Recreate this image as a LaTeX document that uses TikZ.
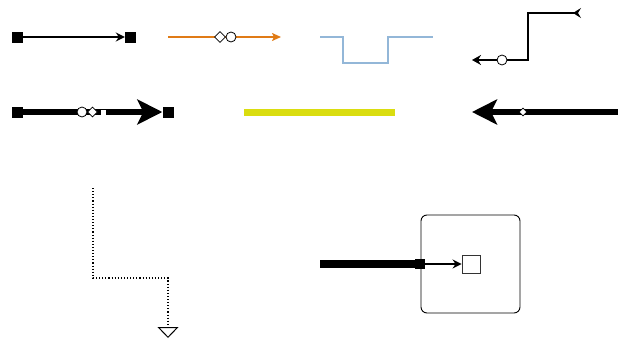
\documentclass[tikz,border=0pt]{standalone}
\usetikzlibrary{arrows.meta,shapes.geometric}
\definecolor{orangeline}{HTML}{E07B16}
\definecolor{blueline}{HTML}{93B7D8}
\definecolor{yellowline}{HTML}{DADD10}
\begin{document}
\begin{tikzpicture}[x=1pt,y=-1pt,
  endsq/.style={rectangle,draw=none,fill=black,minimum size=11pt,inner sep=0pt},
  ring/.style={circle,draw=black,fill=white,minimum size=10pt,inner sep=0pt,line width=0.8pt},
  rhomb/.style={diamond,draw=black,fill=white,minimum size=10pt,inner sep=0pt,line width=0.8pt},
  smallsq/.style={rectangle,draw=none,fill=white,minimum size=5pt,inner sep=0pt},
  smallrhomb/.style={diamond,draw=black,fill=white,minimum size=8pt,inner sep=0pt,line width=0.6pt},
  thinline/.style={line width=2pt,black},
  thickline/.style={line width=6pt,black},
  bigtip/.style={-{Stealth[length=25pt,width=25pt,inset=6pt]}},
]
\useasboundingbox (0,0) rectangle (618,340);

% row 1, first connector: square to square
\node[endsq] (a1) at (17,37) {};
\node[endsq] (a2) at (130.5,37) {};
\draw[thinline,-{Stealth[length=9pt,width=9pt,inset=3pt]}] (a1) -- (a2);

% orange connector with diamond and circle
\coordinate (b1) at (168,37);
\coordinate (b2) at (281,37);
\draw[orangeline,line width=2pt,-{Stealth[length=9pt,width=8pt,inset=2pt]}] (b1) -- (b2);
\node[rhomb,minimum size=11pt] (b3) at (220,37) {};
\node[ring] (b4) at (231,37) {};

% blue step line
\coordinate (c1) at (320,37);
\coordinate (c2) at (343,63);
\coordinate (c3) at (388,37);
\coordinate (c4) at (433,37);
\draw[blueline,line width=2.6pt] (c1) -| (c2) -| (c3) -- (c4);

% black elbow connector pointing left
\coordinate (d1) at (581,13);
\coordinate (d2) at (528,60);
\coordinate (d3) at (472,60);
\draw[line width=2.4pt,{Stealth[reversed,length=8pt,width=10pt,inset=3pt]}-{Stealth[length=9pt,width=10pt,inset=3pt]}]
  (d1) -| (d2) -- (d3);
\node[ring,line width=0.8pt] (d4) at (502,60) {};

% row 2, thick connector with markers
\node[endsq] (e1) at (17,112) {};
\node[endsq] (e2) at (168,112) {};
\draw[thickline,bigtip] (e1) -- (e2);
\node[ring] (e3) at (82,112) {};
\node[rhomb] (e4) at (92.5,112) {};
\node[smallsq] (e5) at (103,112) {};

% yellow bar
\coordinate (f1) at (244,112);
\coordinate (f2) at (395,112);
\draw[yellowline,line width=7pt] (f1) -- (f2);

% thick connector pointing left
\coordinate (g1) at (618,112);
\coordinate (g2) at (472,112);
\draw[thickline,bigtip] (g1) -- (g2);
\node[smallrhomb] (g3) at (523,112) {};

% dotted elbow with open triangle
\coordinate (h1) at (93,188);
\coordinate (h2) at (168,278);
\coordinate (h3) at (168,338);
\draw[line width=1.1pt,black,dotted,-{Triangle[open,length=11pt,width=21pt,line width=1pt]}]
  (h1) |- (h2) -- (h3);

% container with inner target
\node[draw=black,line width=0.9pt,rounded corners=6pt,minimum width=99pt,minimum height=98pt,inner sep=0pt] (box) at (470.5,264) {};
\node[draw=black!80,fill=white,line width=0.9pt,minimum size=18pt,inner sep=0pt] (tgt) at (471,264) {};
\node[endsq,minimum size=10pt] (k2) at (420,264) {};
\coordinate (k1) at (320,264);
\draw[line width=8pt] (k1) -- (k2.center);
\draw[thinline,-{Stealth[length=9pt,width=9pt,inset=3pt]}] (k2) -- (tgt);
\end{tikzpicture}
\end{document}
